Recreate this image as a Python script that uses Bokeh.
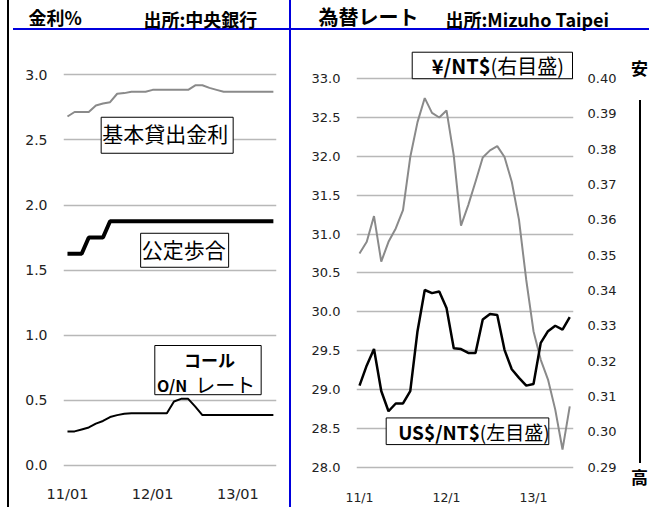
from bokeh.plotting import figure
from bokeh.layouts import row, column
from bokeh.models import Range1d, LinearAxis, FixedTicker, Label, BoxAnnotation, NumeralTickFormatter
from bokeh.embed import file_html
from bokeh.resources import INLINE

# ---------------- data ----------------
months = list(range(30))  # 2011/01 .. 2013/06 monthly
base_rate = [2.68, 2.715, 2.715, 2.715, 2.765, 2.78, 2.79, 2.855, 2.86, 2.87,
             2.87, 2.87, 2.885, 2.885, 2.885, 2.885, 2.885, 2.885, 2.92, 2.92,
             2.90, 2.885, 2.87, 2.87, 2.87, 2.87, 2.87, 2.87, 2.87, 2.87]
discount_rate = [1.625, 1.625, 1.625, 1.75, 1.75, 1.75] + [1.875] * 24
call_rate = [0.26, 0.26, 0.275, 0.29, 0.32, 0.34, 0.37, 0.385, 0.395, 0.40,
             0.40, 0.40, 0.40, 0.40, 0.40, 0.49, 0.51, 0.51, 0.45, 0.385,
             0.385, 0.385, 0.385, 0.385, 0.385, 0.385, 0.385, 0.385, 0.385, 0.385]
usd_ntd = [29.05, 29.31, 29.52, 28.98, 28.72, 28.82, 28.82, 28.98, 29.75, 30.28,
           30.24, 30.26, 30.05, 29.53, 29.52, 29.47, 29.47, 29.90, 29.97, 29.96,
           29.51, 29.26, 29.15, 29.05, 29.07, 29.60, 29.75, 29.82, 29.77, 29.93]
jpy_ntd = [0.3505, 0.3538, 0.3611, 0.3482, 0.3538, 0.3576, 0.3628, 0.3778, 0.3877, 0.3945,
           0.3903, 0.3890, 0.3910, 0.3783, 0.3584, 0.3642, 0.3708, 0.3777, 0.3797, 0.3809,
           0.3778, 0.3708, 0.3600, 0.3430, 0.3285, 0.3204, 0.3148, 0.3063, 0.2950, 0.3072]

rate_ticks = [0.0, 0.5, 1.0, 1.5, 2.0, 2.5, 3.0]
usd_ticks = [28.0, 28.5, 29.0, 29.5, 30.0, 30.5, 31.0, 31.5, 32.0, 32.5, 33.0]
yen_ticks = [0.29, 0.30, 0.31, 0.32, 0.33, 0.34, 0.35, 0.36, 0.37, 0.38, 0.39, 0.40]
x_tick_pos = [0, 12, 24]
left_x_labels = ["11/01", "12/01", "13/01"]
right_x_labels = ["11/1", "12/1", "13/1"]

JP = "Noto Sans CJK JP"
TICKF = "DejaVu Sans"
BLUE = "#0000dd"
GRAY = "#8a8a8a"
GRID = "#b8b8b8"


def style_axis(ax, standoff, size="13px"):
    ax.axis_line_color = None
    ax.major_tick_line_color = None
    ax.minor_tick_line_color = None
    ax.major_tick_out = 0
    ax.major_tick_in = 0
    ax.minor_tick_out = 0
    ax.minor_tick_in = 0
    ax.major_label_text_font = TICKF
    ax.major_label_text_font_size = size
    ax.major_label_text_color = "#222222"
    ax.major_label_standoff = standoff


def tlabel(p, x, y, text, size, bold=False, align="left"):
    p.add_layout(Label(x=x, y=y, text=text, text_align=align, text_baseline="middle",
                       text_font=JP, text_font_size=size, text_color="black",
                       text_font_style="bold" if bold else "normal"))


# ---------------- header (titles) ----------------
header = figure(width=649, height=42, output_backend="svg", toolbar_location=None,
                x_range=Range1d(0, 649), y_range=Range1d(42, 0),
                x_axis_location=None, y_axis_location=None, min_border=0)
header.outline_line_color = None
header.background_fill_color = None
header.border_fill_color = None
header.grid.visible = False
header.styles = {"background": (
    f"linear-gradient({BLUE}, {BLUE}) 13px 28px / 636px 2px no-repeat, "
    "linear-gradient(#000, #000) 7px 0px / 2px 100% no-repeat, "
    f"linear-gradient({BLUE}, {BLUE}) 289px 0px / 2px 100% no-repeat")}
tlabel(header, 28, 16, "金利%", "18px", bold=True)
tlabel(header, 143, 18, "出所:中央銀行", "18px", bold=True)
tlabel(header, 318, 16, "為替レート", "20px", bold=True)
tlabel(header, 445, 18, "出所:Mizuho Taipei", "18px", bold=True)

# ---------------- left chart ----------------
pl = figure(width=291, height=465, output_backend="svg", toolbar_location=None,
            x_range=Range1d(-0.56, 29.44), y_range=Range1d(-0.0637, 3.249),
            min_border_left=63, min_border_right=15, min_border_top=0, min_border_bottom=33)
pl.styles = {"background": (
    "linear-gradient(#000, #000) 7px 0px / 2px 100% no-repeat, "
    f"linear-gradient({BLUE}, {BLUE}) 289px 0px / 2px 100% no-repeat")}
pl.outline_line_color = None
pl.background_fill_color = "white"
pl.border_fill_color = None
pl.xgrid.grid_line_color = None
pl.ygrid.ticker = FixedTicker(ticks=rate_ticks)
pl.ygrid.grid_line_color = GRID
pl.ygrid.grid_line_width = 1.5
pl.yaxis.ticker = FixedTicker(ticks=rate_ticks)
pl.yaxis.formatter = NumeralTickFormatter(format="0.0")
style_axis(pl.yaxis[0], 16, "14px")
pl.xaxis.ticker = FixedTicker(ticks=x_tick_pos)
pl.xaxis.major_label_overrides = dict(zip(x_tick_pos, left_x_labels))
style_axis(pl.xaxis[0], 12, "14.5px")

pl.line(months, base_rate, line_color=GRAY, line_width=2)
pl.line(months, discount_rate, line_color="black", line_width=4)
pl.line(months, call_rate, line_color="black", line_width=2)

pl.add_layout(Label(x=14.04, y=2.536, text="基本貸出金利", text_align="center", text_baseline="middle",
                    text_font=JP, text_font_size="21px", text_color="black",
                    background_fill_color="white", border_line_color="black", border_line_width=1,
                    padding=(1, 5, 1, 5)))
pl.add_layout(Label(x=16.5, y=1.652, text="公定歩合", text_align="center", text_baseline="middle",
                    text_font=JP, text_font_size="21px", text_color="black",
                    background_fill_color="white", border_line_color="black", border_line_width=1,
                    padding=(1, 3, 1, 3)))
pl.add_layout(BoxAnnotation(left=12.3, right=27.28, bottom=0.542, top=0.920,
                            fill_color="white", fill_alpha=1.0,
                            line_color="black", line_alpha=1.0, line_width=1))
pl.add_layout(Label(x=20.0, y=0.8106, text="コール", text_align="center", text_baseline="middle",
                    text_font=JP, text_font_size="17px", text_font_style="bold", text_color="black"))
pl.add_layout(Label(x=12.6, y=0.619, text="O/N", text_align="left", text_baseline="middle",
                    text_font=JP, text_font_size="16px", text_font_style="bold", text_color="black"))
pl.add_layout(Label(x=18.0, y=0.619, text="レート", text_align="left", text_baseline="middle",
                    text_font=JP, text_font_size="20px", text_color="black"))

# ---------------- right chart ----------------
pr = figure(width=334, height=465, output_backend="svg", toolbar_location=None,
            x_range=Range1d(-0.414, 29.517), y_range=Range1d(27.919, 33.465),
            min_border_left=65, min_border_right=52, min_border_top=0, min_border_bottom=33)
pr.extra_y_ranges = {"yen": Range1d(0.28822, 0.41023)}
pr.outline_line_color = None
pr.background_fill_color = "white"
pr.border_fill_color = None
pr.xgrid.grid_line_color = None
pr.ygrid.ticker = FixedTicker(ticks=usd_ticks)
pr.ygrid.grid_line_color = GRID
pr.ygrid.grid_line_width = 1.5
pr.yaxis.ticker = FixedTicker(ticks=usd_ticks)
pr.yaxis.formatter = NumeralTickFormatter(format="0.0")
style_axis(pr.yaxis[0], 16)
pr.xaxis.ticker = FixedTicker(ticks=x_tick_pos)
pr.xaxis.major_label_overrides = dict(zip(x_tick_pos, right_x_labels))
style_axis(pr.xaxis[0], 16, "12.5px")
yen_axis = LinearAxis(y_range_name="yen", ticker=FixedTicker(ticks=yen_ticks),
                      formatter=NumeralTickFormatter(format="0.00"))
style_axis(yen_axis, 14)
pr.add_layout(yen_axis, "right")

pr.line(months, jpy_ntd, line_color=GRAY, line_width=2, y_range_name="yen")
pr.line(months, usd_ntd, line_color="black", line_width=2.5)

pr.add_layout(BoxAnnotation(left=7.27, right=29.38, bottom=32.999, top=33.34,
                            fill_color="white", fill_alpha=1.0,
                            line_color="black", line_alpha=1.0, line_width=1))
pr.add_layout(Label(x=18.08, y=33.169, text="¥/NT$", text_align="right", text_baseline="middle",
                    text_font=JP, text_font_size="20px", text_font_style="bold", text_color="black"))
pr.add_layout(Label(x=18.08, y=33.169, text="(右目盛)", text_align="left", text_baseline="middle",
                    text_font=JP, text_font_size="20px", text_color="black"))
pr.add_layout(BoxAnnotation(left=3.68, right=26.11, bottom=28.291, top=28.634,
                            fill_color="white", fill_alpha=1.0,
                            line_color="black", line_alpha=1.0, line_width=1))
pr.add_layout(Label(x=16.6, y=28.462, text="US$/NT$", text_align="right", text_baseline="middle",
                    text_font=JP, text_font_size="19px", text_font_style="bold", text_color="black"))
pr.add_layout(Label(x=16.6, y=28.462, text="(左目盛)", text_align="left", text_baseline="middle",
                    text_font=JP, text_font_size="19px", text_color="black"))

# ---------------- right edge (安 / 高) ----------------
side = figure(width=24, height=465, output_backend="svg", toolbar_location=None,
              x_range=Range1d(0, 24), y_range=Range1d(432, 0),
              y_axis_location=None, min_border=0, min_border_bottom=33)
side.outline_line_color = None
side.background_fill_color = None
side.border_fill_color = None
side.grid.visible = False
side.styles = {"background": "linear-gradient(#000, #000) 14px 58px / 2px 363px no-repeat"}
side.xaxis.ticker = FixedTicker(ticks=[14])
side.xaxis.major_label_overrides = {14: "高"}
style_axis(side.xaxis[0], -10, "17px")
side.xaxis.major_label_text_font = JP
side.xaxis.major_label_text_font_style = "bold"
side.xaxis.major_label_text_color = "black"
tlabel(side, 14, 25, "安", "17px", bold=True, align="center")

layout = column(header, row(pl, pr, side, spacing=0), spacing=0)
open("out.html", "w").write(file_html(layout, INLINE))
